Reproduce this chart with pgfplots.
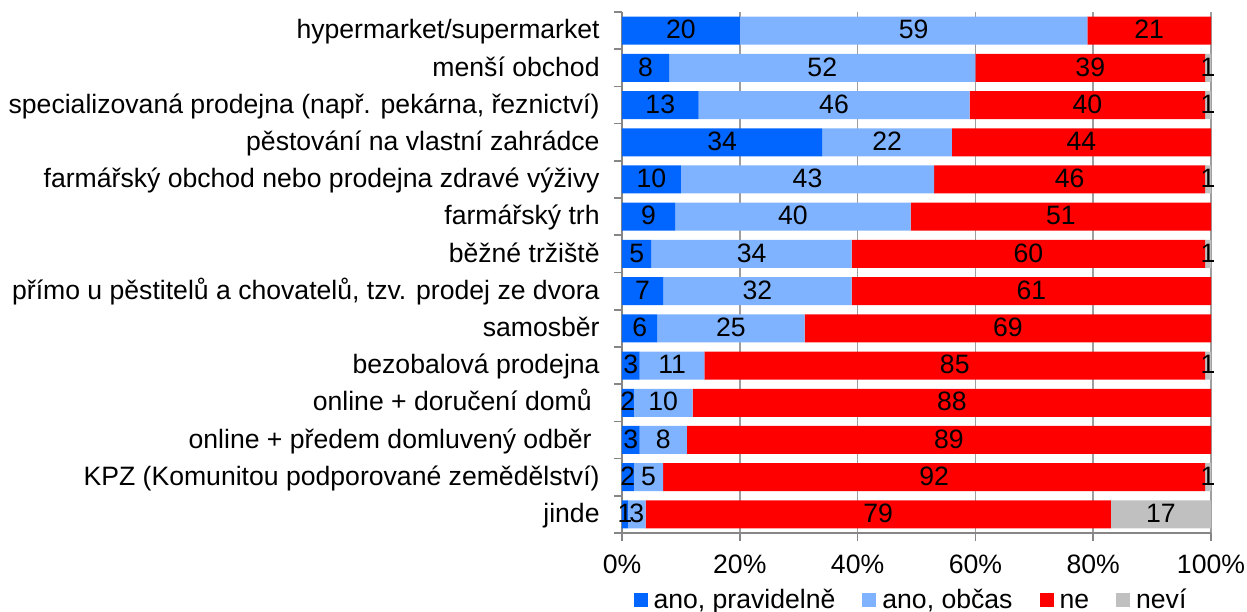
\documentclass[border=0pt]{standalone}
\usepackage{pgfplots}
\usepackage{pgfplotstable}
\pgfplotsset{compat=1.18}
\usepackage{fontspec}
\setmainfont{Liberation Sans}
\definecolor{cA}{HTML}{0066FF}
\definecolor{cB}{HTML}{80B3FF}
\definecolor{cC}{HTML}{FF0000}
\definecolor{cD}{HTML}{C0C0C0}
\definecolor{axgray}{HTML}{868686}
\newcommand{\fs}{\fontsize{13.3}{16}\selectfont}
\newcommand{\tsp}{\rule{0.3em}{0pt}}
\pgfplotstableread{
y a b c d
0 20 59 21 0
1 8 52 39 1
2 13 46 40 1
3 34 22 44 0
4 10 43 46 1
5 9 40 51 0
6 5 34 60 1
7 7 32 61 0
8 6 25 69 0
9 3 11 85 1
10 2 10 88 0
11 3 8 89 0
12 2 5 92 1
13 1 3 79 17
}\data
\pgfplotsset{
  common/.style={
    at={(0,0)}, anchor=south west,
    scale only axis, width=294.5pt, height=260.5pt,
    xmin=0, xmax=100, ymin=-0.5, ymax=13.5, y dir=reverse,
  },
  sqlegend/.style={legend image code/.code={\fill[##1] (0pt,-3.7pt) rectangle (7pt,3.3pt);}},
  lbl/.style={forget plot, only marks, mark=none, nodes near coords, point meta=explicit,
    /pgf/number format/assume math mode=true,
    every node near coord/.append style={anchor=center, inner sep=0pt, font=\fs, text=black,
      text height=0.82em, text depth=0pt}},
}
\begin{document}
\begin{tikzpicture}[font=\fs]
\useasboundingbox (-311pt,-39pt) rectangle (312.5pt,266.5pt);
\begin{axis}[common,
  xbar stacked, bar width=14pt,
  axis x line*=bottom, axis y line*=left,
  axis line style={axgray, line width=0.8pt},
  tick align=outside, major tick length=4pt,
  tick style={axgray, line width=0.8pt},
  xtick={0,20,...,100},
  xticklabels={0\%,20\%,40\%,60\%,80\%,100\%},
  xticklabel style={inner sep=0pt, anchor=north, yshift=-8pt, text height=0.82em, text depth=0pt, font=\fs},
  xmajorgrids, grid style={axgray!80, line width=0.8pt},
  ytick={-0.5,0.5,...,13.5},
  yticklabels={},
  extra y ticks={0,...,13},
  extra y tick labels={hypermarket/supermarket,menší obchod,{specializovaná prodejna (např. pekárna, řeznictví)},pěstování na vlastní zahrádce,farmářský obchod nebo prodejna zdravé výživy,farmářský trh,běžné tržiště,{přímo u pěstitelů a chovatelů, tzv. prodej ze dvora},samosběr,bezobalová prodejna,online + doručení domů\tsp,online + předem domluvený odběr\tsp,KPZ (Komunitou podporované zemědělství),jinde},
  extra y tick style={major tick length=0pt, yticklabel style={inner sep=0pt, anchor=east, xshift=-11pt, text height=0.82em, text depth=0pt, font=\fs}},
  legend style={at={(0.494,-0.1286)}, anchor=center, legend columns=4, draw=none, fill=none, font=\fs,
    nodes={inner xsep=3pt, inner ysep=0pt, text height=0.82em, text depth=0pt},
    /tikz/every even column/.append style={column sep=10.5pt}},
]
\addplot[fill=cA, draw=none, sqlegend] table[x=a, y=y] {\data};
\addlegendentry{ano, pravidelně}
\addplot[fill=cB, draw=none, sqlegend] table[x=b, y=y] {\data};
\addlegendentry{ano, občas}
\addplot[fill=cC, draw=none, sqlegend] table[x=c, y=y] {\data};
\addlegendentry{ne}
\addplot[fill=cD, draw=none, sqlegend] table[x=d, y=y] {\data};
\addlegendentry{neví}
\end{axis}
\begin{axis}[common, hide axis]
\addplot[lbl] table[x expr=\thisrow{a}/2, y=y, meta=a] {\data};
\addplot[lbl] table[x expr=\thisrow{a}+\thisrow{b}/2, y=y, meta=b] {\data};
\addplot[lbl] table[x expr=\thisrow{a}+\thisrow{b}+\thisrow{c}/2, y=y, meta=c] {\data};
\addplot[lbl] table[x expr={\thisrow{d}>0 ? \thisrow{a}+\thisrow{b}+\thisrow{c}+\thisrow{d}/2 : nan}, y=y, meta=d] {\data};
\end{axis}
\end{tikzpicture}
\end{document}
